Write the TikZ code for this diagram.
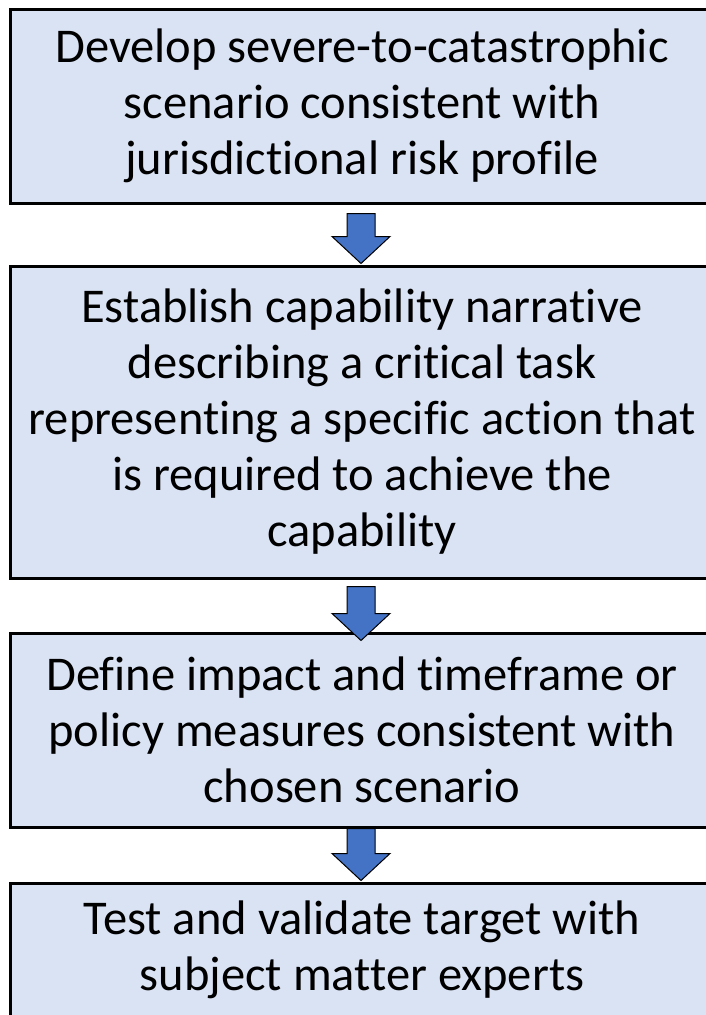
\documentclass[tikz,border=0pt]{standalone}
\usepackage{fontspec}
\setmainfont[Ligatures=NoCommon]{Carlito}
\usetikzlibrary{calc}
\definecolor{boxfill}{HTML}{DAE3F3}
\definecolor{arrowblue}{HTML}{4472C4}
\tikzset{stagebox/.style={draw=black,fill=boxfill,line width=3pt,minimum width=704pt,
    align=center,font=\fontsize{48.5}{56}\selectfont,inner sep=0pt},
  arrowfill/.style={draw=black,fill=arrowblue,line width=1pt,line join=miter}}
% fat down arrow from #1 (top of shaft) to #2 (tip)
\newcommand{\fatarrow}[2]{\draw[arrowfill]($(#1)+(-14,0)$)--($(#1)+(14,0)$)--($(#2)+(14,27)$)--($(#2)+(29,27)$)--(#2)--($(#2)+(-29,27)$)--($(#2)+(-14,27)$)--cycle;}
\begin{document}
\begin{tikzpicture}[x=1pt,y=1pt]
        \useasboundingbox(0,0)rectangle(706,-1015);
        \node[stagebox,minimum height=194pt](develop)at(362,-106){Develop severe-to-catastrophic\\scenario consistent with\\jurisdictional risk profile};
        \node[stagebox,minimum height=312pt](establish)at(362,-422){Establish capability narrative\\describing a critical task\\representing a specific action that\\is required to achieve the\\capability};
        \node[stagebox,minimum height=194pt](define)at(362,-730){Define impact and timeframe or\\policy measures consistent with\\chosen scenario};
        \node[stagebox,minimum height=134pt](test)at(362,-950){Test and validate target with\\subject matter experts};
        \coordinate(a1s)at($(develop.south)+(-1,-9)$);\coordinate(a1e)at($(establish.north)+(-1,1)$);
        \coordinate(a2s)at($(establish.south)+(-1,-7)$);\coordinate(a2e)at($(define.north)+(-1,-9)$);
        \coordinate(a3s)at($(define.south)+(-1,0)$);\coordinate(a3e)at($(test.north)+(-1,1)$);
        \fatarrow{a1s}{a1e}
        \fatarrow{a2s}{a2e}
        \fatarrow{a3s}{a3e}
\end{tikzpicture}
\end{document}
